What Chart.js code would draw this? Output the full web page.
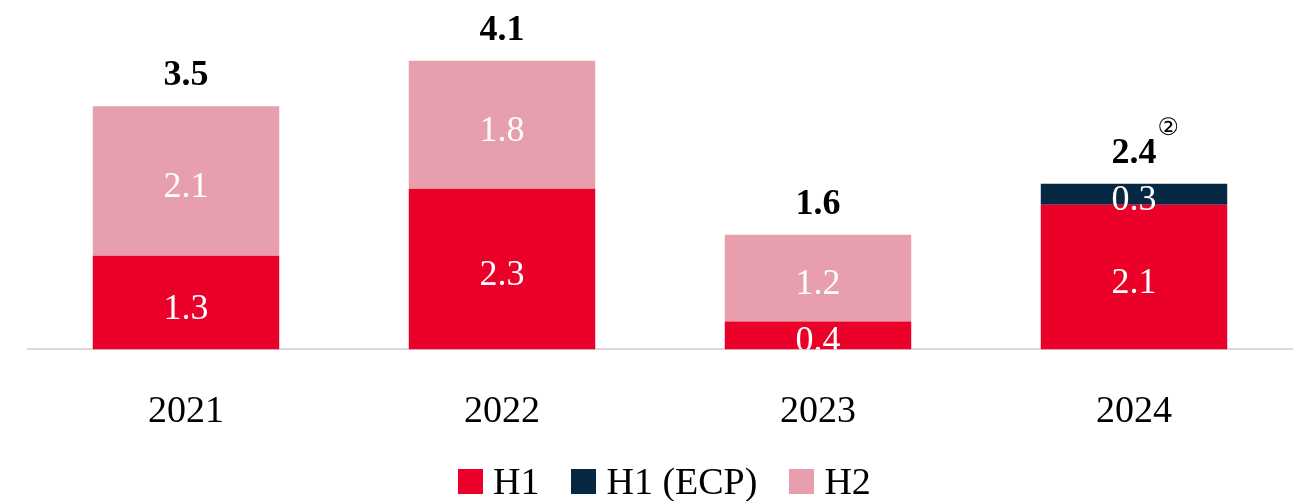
<!DOCTYPE html>
<html>
<head>
<meta charset="utf-8">
<script src="https://cdn.jsdelivr.net/npm/chart.js@4.4.1/dist/chart.umd.min.js"></script>
<style>
  html, body { margin: 0; padding: 0; background: #fff; }
  #wrap { width: 1303px; height: 501px; position: relative; }
  #legend { position: absolute; left: 458px; top: 459px; display: flex; align-items: center;
            font: 38px 'Liberation Serif', 'Times New Roman', serif; color: #000; white-space: nowrap; }
  #legend .item { display: flex; align-items: center; margin-right: 32px; }
  #legend .box { width: 25px; height: 25px; margin-right: 10px; }
</style>
</head>
<body>
<div id="wrap"><canvas id="cchart"></canvas><div id="legend"></div></div>
<script>
// Years on the x axis
const years = ["2021", "2022", "2023", "2024"];

// Series values
const h1 = [1.34, 2.30, 0.40, 2.07];
const h1Ecp = [0, 0, 0, 0.30];
const h2 = [2.14, 1.83, 1.24, 0];

// Footnote marks next to the totals
const totalNotes = ["", "", "", "\u2461"];

const RED = "#EB002A";
const NAVY = "#072842";
const PINK = "#E79FAD";
const SERIF = "'Liberation Serif', 'Times New Roman', serif";

/*
    Writes the value inside each segment and the total above each bar
*/
const barLabels = {
    id: "barLabels",
    afterDatasetsDraw(chart) {
        const ctx = chart.ctx;
        const area = chart.chartArea;
        ctx.save();
        ctx.beginPath();
        ctx.rect(area.left, area.top - 100, area.right - area.left, area.bottom - area.top + 100);
        ctx.clip();
        ctx.textAlign = "center";
        ctx.textBaseline = "alphabetic";

        // values inside the segments
        ctx.font = "36px " + SERIF;
        ctx.fillStyle = "#ffffff";
        chart.data.datasets.forEach((ds, di) => {
            const meta = chart.getDatasetMeta(di);
            meta.data.forEach((bar, i) => {
                const v = ds.data[i];
                if (!v) return;
                const mid = (bar.y + bar.base) / 2;
                ctx.fillText(v.toFixed(1), bar.x, mid + 16);
            });
        });

        // totals above the bars
        const first = chart.getDatasetMeta(0);
        first.data.forEach((bar, i) => {
            const total = h1[i] + h1Ecp[i] + h2[i];
            const top = chart.scales.y.getPixelForValue(total);
            const txt = total.toFixed(1);
            ctx.font = "bold 36px " + SERIF;
            ctx.fillStyle = "#000000";
            ctx.fillText(txt, bar.x, top - 21);
            if (totalNotes[i]) {
                const w = ctx.measureText(txt).width;
                ctx.font = "24px 'DejaVu Sans', sans-serif";
                ctx.textAlign = "left";
                ctx.fillText(totalNotes[i], bar.x + w / 2 + 1, top - 49);
                ctx.textAlign = "center";
            }
        });
        ctx.restore();
    }
};

const UICanvasChart = document.getElementById("cchart");
const chart = new Chart(UICanvasChart.getContext("2d"), {
    type: "bar",
    data: {
        labels: years,
        datasets: [
            { label: "H1", data: h1, backgroundColor: RED, borderWidth: 0 },
            { label: "H1 (ECP)", data: h1Ecp, backgroundColor: NAVY, borderWidth: 0 },
            { label: "H2", data: h2, backgroundColor: PINK, borderWidth: 0 }
        ]
    },
    options: {
        responsive: true,
        maintainAspectRatio: false,
        animation: false,
        layout: { padding: { left: 28, right: 11, top: 0, bottom: 26 } },
        datasets: { bar: { categoryPercentage: 1, barPercentage: 0.59 } },
        scales: {
            x: {
                stacked: true,
                grid: { display: false, drawTicks: false },
                border: { display: true, color: "#d9d9d9", width: 2 },
                ticks: {
                    padding: 40,
                    color: "#000",
                    font: { family: SERIF, size: 38 }
                }
            },
            y: {
                stacked: true,
                display: false,
                min: 0,
                max: 5
            }
        },
        plugins: {
            tooltip: { enabled: false },
            legend: { display: false }
        }
    },
    plugins: [barLabels]
});

/*
    Legend built from the chart datasets
*/
const UILegend = document.getElementById("legend");
chart.data.datasets.forEach(ds => {
    const item = document.createElement("div");
    item.className = "item";
    const box = document.createElement("span");
    box.className = "box";
    box.style.background = ds.backgroundColor;
    const txt = document.createElement("span");
    txt.textContent = ds.label;
    item.appendChild(box);
    item.appendChild(txt);
    UILegend.appendChild(item);
});
</script>
</body>
</html>
